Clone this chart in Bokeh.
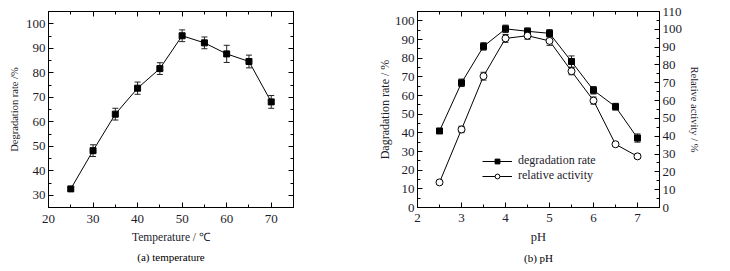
from bokeh.plotting import figure
from bokeh.models import (ColumnDataSource, Range1d, LinearAxis, Whisker, TeeHead,
                          Legend, LegendItem, Title, SingleIntervalTicker,
                          CustomLabelingPolicy)
from bokeh.layouts import row
from bokeh.embed import file_html
from bokeh.resources import INLINE

# ---------------- data ----------------
temp = [25, 30, 35, 40, 45, 50, 55, 60, 65, 70]
deg_temp = [32.6, 48.2, 63.1, 73.7, 81.7, 95.1, 92.2, 87.7, 84.6, 68.1]
err_temp = [0.6, 2.4, 2.4, 2.5, 2.4, 2.4, 2.4, 3.5, 2.6, 2.6]

ph = [2.5, 3, 3.5, 4, 4.5, 5, 5.5, 6, 6.5, 7]
deg_ph = [41.0, 66.8, 86.3, 95.7, 94.4, 93.3, 78.2, 62.8, 54.0, 37.2]
err_deg_ph = [1.2, 2.0, 2.0, 2.0, 1.8, 2.0, 3.0, 2.0, 1.8, 2.2]
act_ph = [14.1, 43.8, 73.7, 94.9, 96.4, 93.5, 76.5, 60.0, 35.5, 28.7]
err_act_ph = [1.0, 1.8, 2.2, 2.2, 2.0, 2.5, 2.0, 2.0, 1.0, 1.2]

FONT = "Liberation Serif"
TXT = "#1c1c2c"

NO_LABELS = CustomLabelingPolicy(code="""
    for (const i of indices) indices.unset(i)
    return indices
""")


def style_axis(ax, labels=True, size="13px", standoff=3):
    ax.major_tick_in = 5
    ax.major_tick_out = 0
    ax.minor_tick_in = 3
    ax.minor_tick_out = 0
    ax.axis_line_color = "black"
    ax.major_tick_line_color = "black"
    ax.minor_tick_line_color = "black"
    ax.major_label_text_font = FONT
    ax.major_label_text_color = TXT
    ax.axis_label_text_font = FONT
    ax.axis_label_text_font_style = "normal"
    ax.axis_label_text_color = TXT
    if labels:
        ax.major_label_text_font_size = size
        ax.major_label_standoff = standoff
    else:
        ax.major_label_text_font_size = "1px"
        ax.major_label_standoff = 0
        ax.axis_label_standoff = 0
        ax.major_label_policy = NO_LABELS


def base_fig(width, height, xr, yr, bl, br, bt, bb):
    p = figure(width=width, height=height, x_range=xr, y_range=yr,
               output_backend="svg", toolbar_location=None,
               min_border_left=bl, min_border_right=br,
               min_border_top=bt, min_border_bottom=bb)
    p.xgrid.visible = False
    p.ygrid.visible = False
    p.outline_line_color = "black"
    p.outline_line_width = 1
    p.background_fill_color = "white"
    p.border_fill_color = "white"
    return p


def caption(text):
    t = Title(text=text, align="center", text_font=FONT,
              text_font_size="11px", text_font_style="normal", text_color="black")
    t.standoff = 6
    return t


def whisker(src, **kw):
    return Whisker(source=src, base="x", upper="up", lower="lo",
                   line_color="#222", line_width=1,
                   upper_head=TeeHead(size=6, line_color="#222"),
                   lower_head=TeeHead(size=6, line_color="#222"), **kw)


# ---------------- (a) temperature ----------------
p1 = base_fig(365, 271, Range1d(20, 75), Range1d(25, 105), 48, 72, 11, 63)
p1.xaxis.ticker = SingleIntervalTicker(interval=10, num_minor_ticks=2)
p1.yaxis.ticker = SingleIntervalTicker(interval=10, num_minor_ticks=2)
style_axis(p1.xaxis[0], standoff=7)
style_axis(p1.yaxis[0])
p1.xaxis.axis_label = "Temperature / \u2103"
p1.xaxis.axis_label_text_font_size = "11.5px"
p1.xaxis.axis_label_standoff = 5
p1.yaxis.axis_label = "Degradation rate /%"
p1.yaxis.axis_label_text_font_size = "10.5px"
p1.yaxis.axis_label_standoff = 3

top1 = LinearAxis(ticker=SingleIntervalTicker(interval=10, num_minor_ticks=2))
style_axis(top1, labels=False)
p1.add_layout(top1, "above")
right1 = LinearAxis(ticker=SingleIntervalTicker(interval=10, num_minor_ticks=2))
style_axis(right1, labels=False)
p1.add_layout(right1, "right")

src1 = ColumnDataSource(dict(x=temp, y=deg_temp,
                             up=[v + e for v, e in zip(deg_temp, err_temp)],
                             lo=[v - e for v, e in zip(deg_temp, err_temp)]))
p1.add_layout(whisker(src1))
p1.line("x", "y", source=src1, line_color="black", line_width=1)
p1.scatter("x", "y", source=src1, marker="square", size=6,
           fill_color="black", line_color="black")
p1.add_layout(caption("(a) temperature"), "below")

# ---------------- (b) pH ----------------
p2 = base_fig(364, 271, Range1d(2, 7.5), Range1d(0, 105), 52, 70, 11, 64)
p2.extra_y_ranges = {"act": Range1d(0, 110)}
p2.xaxis.ticker = SingleIntervalTicker(interval=1, num_minor_ticks=2)
p2.yaxis.ticker = SingleIntervalTicker(interval=10, num_minor_ticks=2)
style_axis(p2.xaxis[0], standoff=6)
style_axis(p2.yaxis[0])
p2.xaxis.axis_label = "pH"
p2.xaxis.axis_label_text_font_size = "12.5px"
p2.xaxis.axis_label_standoff = 5
p2.yaxis.axis_label = "Dagradation rate / %"
p2.yaxis.axis_label_text_font_size = "12px"
p2.yaxis.axis_label_standoff = 0

top2 = LinearAxis(ticker=SingleIntervalTicker(interval=1, num_minor_ticks=2))
style_axis(top2, labels=False)
p2.add_layout(top2, "above")
right2 = LinearAxis(y_range_name="act",
                    ticker=SingleIntervalTicker(interval=10, num_minor_ticks=2),
                    axis_label="Relative activity / %")
style_axis(right2)
right2.axis_label_text_font_size = "10.5px"
right2.axis_label_standoff = 4
p2.add_layout(right2, "right")

src2 = ColumnDataSource(dict(x=ph, y=deg_ph,
                             up=[v + e for v, e in zip(deg_ph, err_deg_ph)],
                             lo=[v - e for v, e in zip(deg_ph, err_deg_ph)]))
src3 = ColumnDataSource(dict(x=ph, y=act_ph,
                             up=[v + e for v, e in zip(act_ph, err_act_ph)],
                             lo=[v - e for v, e in zip(act_ph, err_act_ph)]))
p2.add_layout(whisker(src2))
p2.add_layout(whisker(src3, y_range_name="act"))
l_deg = p2.line("x", "y", source=src2, line_color="black", line_width=1)
m_deg = p2.scatter("x", "y", source=src2, marker="square", size=6,
                   fill_color="black", line_color="black")
l_act = p2.line("x", "y", source=src3, line_color="black", line_width=1,
                y_range_name="act")
m_act = p2.scatter("x", "y", source=src3, marker="circle", size=7,
                   fill_color="white", line_color="black", line_width=1,
                   y_range_name="act")

legend = Legend(items=[LegendItem(label="degradation rate", renderers=[l_deg, m_deg]),
                       LegendItem(label="relative activity", renderers=[l_act, m_act])],
                location=(65, 24), background_fill_alpha=0, border_line_color=None,
                label_text_font=FONT, label_text_font_size="12px",
                label_text_line_height=1.0,
                label_text_color=TXT, glyph_width=30, glyph_height=12,
                label_height=12, spacing=0, padding=0, margin=0,
                label_standoff=6)
p2.add_layout(legend, "center")
p2.add_layout(caption("(b) pH"), "below")

layout = row(p1, p2)
open("out.html", "w").write(file_html(layout, INLINE))
